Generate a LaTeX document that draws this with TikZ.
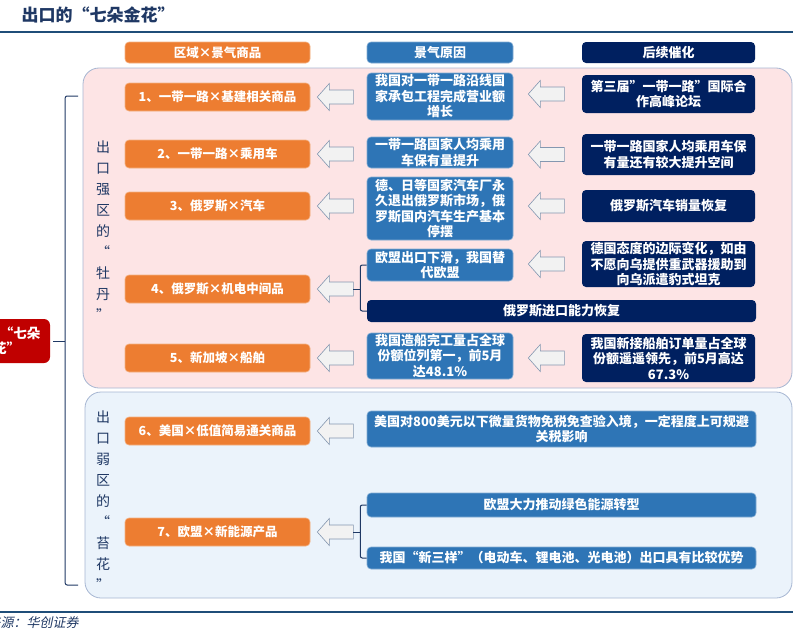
\documentclass[tikz,border=0pt]{standalone}
\usepackage{fontspec}
\setmainfont{Noto Sans CJK SC}
\newfontfamily\slantfont[FakeSlant=0.2]{Noto Sans CJK SC}
\usetikzlibrary{calc,positioning}
\definecolor{goodsorange}{HTML}{ED7D31}
\definecolor{causeblue}{HTML}{2E75B6}
\definecolor{triggernavy}{HTML}{002060}
\definecolor{rootred}{HTML}{C00000}
\definecolor{titleblue}{HTML}{1F3864}
\definecolor{rulerblue}{HTML}{1F4E79}
\definecolor{strongpink}{HTML}{FDE4E5}
\definecolor{weakblue}{HTML}{EBF3FB}
\definecolor{zoneline}{HTML}{A6B6D2}
\definecolor{arrowgray}{HTML}{F2F2F2}
\definecolor{arrowline}{HTML}{8497B0}
\tikzset{
  box/.style={rectangle, rounded corners=4pt, text=white, align=center, inner sep=1pt,
    font=\bfseries\fontsize{13}{15.5}\selectfont},
  goods/.style={box, fill=goodsorange, draw=goodsorange!60!white, line width=0.6pt,
    minimum width=185pt, minimum height=28pt, font=\bfseries\fontsize{12.5}{15}\selectfont},
  cause/.style={box, fill=causeblue, draw=causeblue!60!white, line width=0.6pt, minimum width=146pt},
  trigger/.style={box, fill=triggernavy, minimum width=173pt},
  zone/.style={draw=zoneline, line width=0.8pt, rounded corners=16pt},
  sidetext/.style={text=titleblue, align=center, font=\fontsize{14}{21}\selectfont},
  hollow/.style={draw=arrowline, fill=arrowgray, line width=0.6pt},
  bracket/.style={draw=titleblue, line width=1pt, rounded corners=2pt},
}
\newcommand{\hollowarrow}[1]{%
  \draw[hollow] (#1) -- ++(12,-13.5) -- ++(0,6.5) -- ++(24,0) -- ++(0,14)
    -- ++(-24,0) -- ++(0,6.5) -- cycle;}

\begin{document}
\begin{tikzpicture}[x=1pt,y=-1pt]
  \useasboundingbox (0,0) rectangle (793,629);

  % Title, rules and source
  \node[anchor=west, text=titleblue, font=\bfseries\fontsize{17}{20}\selectfont] (title) at (18,15) {出口的“七朵金花”};
  \draw[rulerblue, line width=1.5pt] (0,32) -- (793,32);
  \draw[rulerblue, line width=1.5pt] (0,612) -- (793,612);
  \node[anchor=west, text=titleblue, font=\slantfont\fontsize{13}{15}\selectfont] (source) at (-42,623) {资料来源：华创证券};

  % The two zones
  \draw[zone, fill=strongpink] (83,68) rectangle (792,388);
  \draw[zone, fill=weakblue] (85,392) rectangle (792,598);

  % Column headers
  \node[goods, minimum height=21pt] (hgoods) at (217.5,52.5) {区域×景气商品};
  \node[cause, minimum height=21pt] (hcause) at (440,52.5) {景气原因};
  \node[trigger, minimum height=21pt] (htrigger) at (668.5,52.5) {后续催化};

  % Side labels
  \node[sidetext] (strong) at (103,231) {出\\口\\强\\区\\的\\“\\牡\\丹\\”};
  \node[sidetext] (weak) at (103,501) {出\\口\\弱\\区\\的\\“\\苔\\花\\”};

  % Root
  \node[box, fill=rootred, rounded corners=6pt, minimum width=100pt, minimum height=44pt,
    font=\bfseries\fontsize{13.5}{15.5}\selectfont] (root) at (0,341) {出口的“七朵\\金花”};

  % Goods
  \node[goods] (g1) at (217.5,97) {1、一带一路×基建相关商品};
  \node[goods] (g2) at (217.5,154) {2、一带一路×乘用车};
  \node[goods] (g3) at (217.5,206) {3、俄罗斯×汽车};
  \node[goods] (g4) at (217.5,289) {4、俄罗斯×机电中间品};
  \node[goods] (g5) at (217.5,358) {5、新加坡×船舶};
  \node[goods] (g6) at (217.5,431) {6、美国×低值简易通关商品};
  \node[goods] (g7) at (217.5,532) {7、欧盟×新能源产品};

  % Causes
  \node[cause, minimum height=47pt] (c1) at (440,96.5) {我国对一带一路沿线国\\家承包工程完成营业额\\增长};
  \node[cause, minimum height=31pt] (c2) at (440,152.5) {一带一路国家人均乘用\\车保有量提升};
  \node[cause, minimum height=63pt] (c3) at (440,208.5) {德、日等国家汽车厂永\\久退出俄罗斯市场，俄\\罗斯国内汽车生产基本\\停摆};
  \node[cause, minimum height=32pt] (c4) at (440,265) {欧盟出口下滑，我国替\\代欧盟};
  \node[trigger, minimum width=389pt, minimum height=22pt] (c4b) at (561.5,311) {俄罗斯进口能力恢复};
  \node[cause, minimum height=46pt] (c5) at (440,356) {我国造船完工量占全球\\份额位列第一，前5月\\达48.1\%};
  \node[cause, minimum width=389pt, minimum height=36pt] (c6) at (561.5,429) {美国对800美元以下微量货物免税免查验入境，一定程度上可规避\\关税影响};
  \node[cause, minimum width=389pt, minimum height=24pt] (c7a) at (561.5,505) {欧盟大力推动绿色能源转型};
  \node[cause, minimum width=389pt, minimum height=22pt] (c7b) at (561.5,558) {我国“新三样”（电动车、锂电池、光电池）出口具有比较优势};

  % Triggers
  \node[trigger, minimum height=38pt] (t1) at (668.5,94) {第三届”一带一路”国际合\\作高峰论坛};
  \node[trigger, minimum height=41pt] (t2) at (668.5,154.5) {一带一路国家人均乘用车保\\有量还有较大提升空间};
  \node[trigger, minimum height=32pt] (t3) at (668.5,206) {俄罗斯汽车销量恢复};
  \node[trigger, minimum height=46pt] (t4) at (668.5,264) {德国态度的边际变化，如由\\不愿向乌提供重武器援助到\\向乌派遣豹式坦克};
  \node[trigger, minimum height=48pt] (t5) at (668.5,358) {我国新接船舶订单量占全球\\份额遥遥领先，前5月高达\\67.3\%};

  % Hollow arrows
  \foreach \g in {1,...,7} {\hollowarrow{$(g\g.east)+(7,0)$}}
  \foreach \r in {1,...,5} {\hollowarrow{$(c\r.east |- t\r.west)+(15,0)$}}

  % Brackets
  \coordinate (k4) at ($(g4.east)+(43,0)$);
  \draw[bracket] (c4.west) -| ($(k4)+(7,0)$) |- (c4b.west);
  \draw[bracket] ($(k4)+(7,0)$) -- (k4);
  \coordinate (k7) at ($(g7.east)+(43,0)$);
  \draw[bracket] (c7a.west) -| ($(k7)+(7,0)$) |- (c7b.west);
  \draw[bracket] ($(k7)+(7,0)$) -- (k7);
  \coordinate (ktop) at (78,96);
  \coordinate (kbot) at (78,585);
  \coordinate (kmid) at ($(root.east)+(15,0)$);
  \draw[bracket] (ktop) -| (kmid) |- (kbot);
  \draw[bracket, shorten >=3pt] (kmid) -- (root.east);
\end{tikzpicture}
\end{document}
